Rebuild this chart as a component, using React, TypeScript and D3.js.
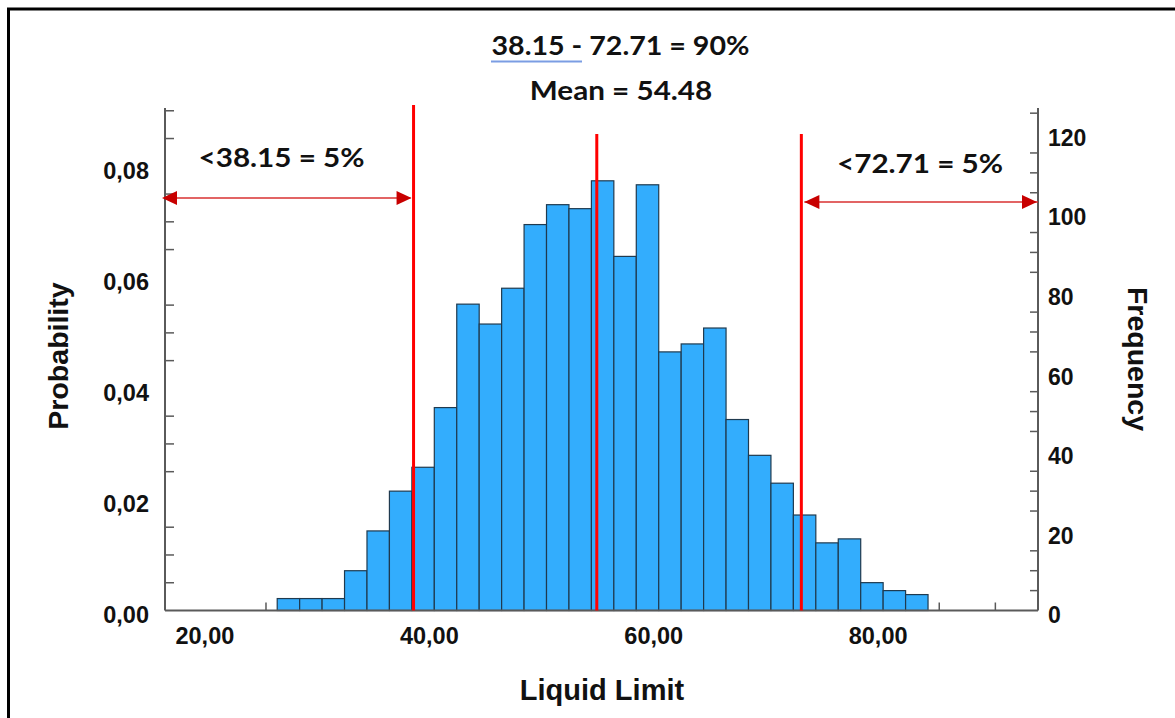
import React from "react";
import * as d3 from "d3";

// ---- data ----
const binStarts = [26, 28, 30, 32, 34, 36, 38, 40, 42, 44, 46, 48, 50, 52, 54, 56, 58, 60, 62, 64, 66, 68, 70, 72, 74, 76, 78, 80, 82];
const binWidth = 2;
const counts = [3, 3, 3, 10, 20, 30, 36, 51, 77, 72, 81, 97, 102, 101, 108, 89, 107, 65, 67, 71, 48, 39, 32, 24, 17, 18, 7, 5, 4];
const xTickValues = [20, 40, 60, 80];
const xTickLabels = ["20,00", "40,00", "60,00", "80,00"];
const probTickValues = [0, 0.02, 0.04, 0.06, 0.08];
const probTickLabels = ["0,00", "0,02", "0,04", "0,06", "0,08"];
const freqTickValues = [0, 20, 40, 60, 80, 100, 120];
const freqTickLabels = ["0", "20", "40", "60", "80", "100", "120"];
const lowerLimit = 38.15;
const meanValue = 54.48;
const upperLimit = 72.71;
const titleText = "38.15 - 72.71 = 90%";
const meanText = "Mean = 54.48";
const leftNote = "<38.15 = 5%";
const rightNote = "<72.71 = 5%";

// ---- layout ----
const W = 1175;
const H = 718;
const plotLeft = 165;
const plotRight = 1038;
const plotTop = 108;
const plotBottom = 610.5;

const x = d3.scaleLinear().domain([16, 93.8]).range([plotLeft, plotRight]);
const yFreq = d3.scaleLinear().domain([0, 126.3]).range([plotBottom, plotTop]);
const yProb = d3.scaleLinear().domain([0, 0.0905]).range([plotBottom, plotTop]);

const axisColor = "#5a5a5a";
const tickFont = "'Liberation Sans', Arial, sans-serif";
const noteFont = "Lato, 'Open Sans', sans-serif";

function Note({ cx, y, children, sx = 1.13 }: { cx: number; y: number; children: string; sx?: number }) {
  return (
    <text
      transform={`translate(${cx},${y}) scale(${sx},1)`}
      textAnchor="middle"
      fontFamily={noteFont}
      fontWeight="bold"
      fontSize={26}
      fill="#111"
    >
      {children}
    </text>
  );
}

export default function App() {
  const xMinor = d3.range(20, 93, 5).filter((v) => v % 20 !== 0);
  const probMinor = d3.range(0.005, 0.0901, 0.005).filter((v) => Math.abs(v / 0.02 - Math.round(v / 0.02)) > 1e-6);
  const freqMinor = d3.range(5, 126, 5).filter((v) => v % 20 !== 0);

  const leftArrowY = 198;
  const rightArrowY = 202;
  const arrowColor = "#c80000";

  const head = (tipX: number, y: number, dir: number) => {
    const len = 15;
    const hh = 7;
    return `M${tipX},${y} L${tipX - dir * len},${y - hh} L${tipX - dir * len},${y + hh} Z`;
  };

  return (
    <svg width={W} height={H} style={{ position: "absolute", left: 0, top: 0, background: "#fff" }}>
      {/* frame */}
      <rect x={8.5} y={9} width={1300} height={900} fill="none" stroke="#000" strokeWidth={3} />

      {/* x minor ticks */}
      {xMinor.map((v) => (
        <line key={"xt" + v} x1={x(v)} x2={x(v)} y1={plotBottom} y2={plotBottom - 8} stroke={axisColor} strokeWidth={1.5} />
      ))}
      {/* left minor ticks */}
      {probMinor.map((v) => (
        <line key={"pt" + v} x1={plotLeft} x2={plotLeft + 9} y1={yProb(v)} y2={yProb(v)} stroke={axisColor} strokeWidth={1.5} />
      ))}
      {/* right minor ticks */}
      {freqMinor.map((v) => (
        <line key={"ft" + v} x1={plotRight} x2={plotRight - 8} y1={yFreq(v)} y2={yFreq(v)} stroke={axisColor} strokeWidth={1.5} />
      ))}

      {/* bars */}
      {binStarts.map((s, i) => (
        <rect
          key={"b" + s}
          x={x(s)}
          y={yFreq(counts[i])}
          width={x(s + binWidth) - x(s)}
          height={plotBottom - yFreq(counts[i])}
          fill="#33adfd"
          stroke="#1f3a4f"
          strokeWidth={1.2}
        />
      ))}

      {/* axes lines */}
      <line x1={plotLeft} x2={plotLeft} y1={plotTop} y2={plotBottom} stroke={axisColor} strokeWidth={2} />
      <line x1={plotRight} x2={plotRight} y1={plotTop} y2={plotBottom} stroke={axisColor} strokeWidth={2} />
      <line x1={plotLeft} x2={plotRight} y1={plotBottom} y2={plotBottom} stroke={axisColor} strokeWidth={2} />

      {/* red reference lines */}
      <line x1={x(lowerLimit)} x2={x(lowerLimit)} y1={105} y2={plotBottom} stroke="#ff0000" strokeWidth={3} />
      <line x1={x(meanValue)} x2={x(meanValue)} y1={134} y2={plotBottom} stroke="#ff0000" strokeWidth={3} />
      <line x1={x(upperLimit)} x2={x(upperLimit)} y1={134} y2={plotBottom} stroke="#ff0000" strokeWidth={3} />

      {/* arrows */}
      <line x1={plotLeft} x2={x(lowerLimit) - 3} y1={leftArrowY} y2={leftArrowY} stroke="#d83030" strokeWidth={1.3} />
      <path d={head(plotLeft - 3, leftArrowY, -1)} fill={arrowColor} />
      <path d={head(x(lowerLimit) - 2, leftArrowY, 1)} fill={arrowColor} />
      <line x1={x(upperLimit) + 3} x2={plotRight} y1={rightArrowY} y2={rightArrowY} stroke="#d83030" strokeWidth={1.3} />
      <path d={head(x(upperLimit) + 3, rightArrowY, -1)} fill={arrowColor} />
      <path d={head(plotRight - 1, rightArrowY, 1)} fill={arrowColor} />

      {/* x tick labels */}
      {xTickValues.map((v, i) => (
        <text key={"xl" + v} x={x(v) - 5} y={644} textAnchor="middle" fontFamily={tickFont} fontWeight="bold" fontSize={23.5} fill="#111">
          {xTickLabels[i]}
        </text>
      ))}
      {/* left tick labels */}
      {probTickValues.map((v, i) => (
        <text key={"pl" + v} x={149} y={yProb(v) + 12.5} textAnchor="end" fontFamily={tickFont} fontWeight="bold" fontSize={23.5} fill="#111">
          {probTickLabels[i]}
        </text>
      ))}
      {/* right tick labels */}
      {freqTickValues.map((v, i) => (
        <text key={"fl" + v} x={1048} y={yFreq(v) + 12.8} textAnchor="start" fontFamily={tickFont} fontWeight="bold" fontSize={23} fill="#111">
          {freqTickLabels[i]}
        </text>
      ))}

      {/* axis titles */}
      <text x={602} y={700} textAnchor="middle" fontFamily={tickFont} fontWeight="bold" fontSize={29} fill="#111">
        Liquid Limit
      </text>
      <text transform="translate(68,356) rotate(-90)" textAnchor="middle" fontFamily={tickFont} fontWeight="bold" fontSize={28.5} fill="#111">
        Probability
      </text>
      <text transform="translate(1128,359) rotate(90)" textAnchor="middle" fontFamily={tickFont} fontWeight="bold" fontSize={28.5} fill="#111">
        Frequency
      </text>

      {/* titles and notes */}
      <Note cx={620.5} y={55} sx={1.1}>{titleText}</Note>
      <line x1={491} x2={582} y1={61.5} y2={61.5} stroke="#7b9de3" strokeWidth={2} />
      <Note cx={621} y={100} sx={1.14}>{meanText}</Note>
      <Note cx={281.5} y={167} sx={1.14}>{leftNote}</Note>
      <Note cx={920} y={173} sx={1.14}>{rightNote}</Note>
    </svg>
  );
}
